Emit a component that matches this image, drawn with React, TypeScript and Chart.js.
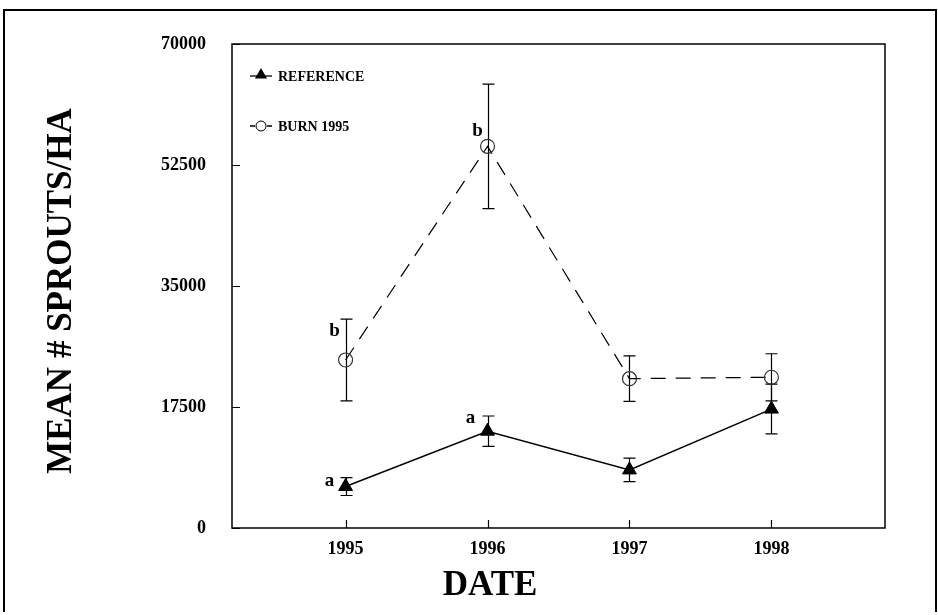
import React, { useEffect, useRef } from 'react';
import { Chart, registerables } from 'chart.js';

Chart.register(...registerables);

// ---- data ----
const years = [1995, 1996, 1997, 1998];
const yTickValues = [0, 17500, 35000, 52500, 70000];
const referenceMeans = [6000, 14000, 8400, 17200];
const referenceErrors = [1300, 2200, 1700, 3600];
const burnMeans = [24300, 55200, 21600, 21800];
const burnErrors = [5900, 9000, 3300, 3400];
const referenceLetters = ['a', 'a', '', ''];
const burnLetters = ['b', 'b', '', ''];
const seriesNames = ['REFERENCE', 'BURN 1995'];

const SERIF = '"Liberation Serif", "Times New Roman", serif';

// letter placement offsets (style only)
const refLetterOffsets = [[-16, -5], [-17, -13], [0, 0], [0, 0]];
const burnLetterOffsets = [[-11, -29], [-10, -15], [0, 0], [0, 0]];

const errorBarPlugin = {
  id: 'errorBars',
  beforeDatasetsDraw(chart: any) {
    const ctx = chart.ctx;
    const y = chart.scales.y;
    const sets = [
      { idx: 0, means: referenceMeans, errs: referenceErrors },
      { idx: 1, means: burnMeans, errs: burnErrors },
    ];
    ctx.save();
    ctx.strokeStyle = '#000';
    ctx.lineWidth = 1.2;
    ctx.setLineDash([]);
    for (const s of sets) {
      const meta = chart.getDatasetMeta(s.idx);
      meta.data.forEach((pt: any, i: number) => {
        const top = y.getPixelForValue(s.means[i] + s.errs[i]);
        const bot = y.getPixelForValue(s.means[i] - s.errs[i]);
        const x = Math.round(pt.x) + 0.5;
        ctx.beginPath();
        ctx.moveTo(x, top);
        ctx.lineTo(x, bot);
        ctx.moveTo(x - 6, top);
        ctx.lineTo(x + 6, top);
        ctx.moveTo(x - 6, bot);
        ctx.lineTo(x + 6, bot);
        ctx.stroke();
      });
    }
    ctx.restore();
  },
};

function drawTriangle(ctx: CanvasRenderingContext2D, x: number, y: number, r: number) {
  ctx.beginPath();
  ctx.moveTo(x, y - r);
  ctx.lineTo(x + r * 0.866, y + r * 0.5);
  ctx.lineTo(x - r * 0.866, y + r * 0.5);
  ctx.closePath();
  ctx.fill();
}

const decorPlugin = {
  id: 'decor',
  afterDraw(chart: any) {
    const ctx = chart.ctx;
    const { left, right, top, bottom } = chart.chartArea;
    const xs = chart.scales.x;
    const ys = chart.scales.y;
    ctx.save();
    ctx.setLineDash([]);
    // plot frame
    ctx.strokeStyle = '#000';
    ctx.lineWidth = 1.5;
    ctx.strokeRect(left, top, right - left, bottom - top);
    // inward ticks
    ctx.lineWidth = 1.2;
    ctx.beginPath();
    yTickValues.forEach((v) => {
      const py = Math.round(ys.getPixelForValue(v)) + 0.5;
      ctx.moveTo(left, py);
      ctx.lineTo(left + 8, py);
    });
    years.forEach((v) => {
      const px = Math.round(xs.getPixelForValue(v)) + 0.5;
      ctx.moveTo(px, bottom);
      ctx.lineTo(px, bottom - 8);
    });
    ctx.stroke();

    // outer page frame
    ctx.lineWidth = 2;
    ctx.beginPath();
    ctx.moveTo(4, 612);
    ctx.lineTo(4, 10);
    ctx.lineTo(936, 10);
    ctx.lineTo(936, 612);
    ctx.stroke();

    // axis titles
    ctx.fillStyle = '#000';
    ctx.font = `bold 35px ${SERIF}`;
    ctx.textAlign = 'center';
    ctx.textBaseline = 'middle';
    ctx.fillText('DATE', 490, 586);
    ctx.save();
    ctx.translate(62, 291);
    ctx.rotate(-Math.PI / 2);
    ctx.fillText('MEAN # SPROUTS/HA', 0, 0);
    ctx.restore();

    // significance letters
    ctx.font = `bold 19px ${SERIF}`;
    const m0 = chart.getDatasetMeta(0);
    const m1 = chart.getDatasetMeta(1);
    m0.data.forEach((pt: any, i: number) => {
      if (referenceLetters[i]) {
        ctx.fillText(referenceLetters[i], pt.x + refLetterOffsets[i][0], pt.y + refLetterOffsets[i][1]);
      }
    });
    m1.data.forEach((pt: any, i: number) => {
      if (burnLetters[i]) {
        ctx.fillText(burnLetters[i], pt.x + burnLetterOffsets[i][0], pt.y + burnLetterOffsets[i][1]);
      }
    });

    // legend
    const lx = left + 18;
    const ly1 = top + 32;
    const ly2 = top + 82;
    ctx.lineWidth = 1.3;
    ctx.beginPath();
    ctx.moveTo(lx, ly1);
    ctx.lineTo(lx + 22, ly1);
    ctx.stroke();
    drawTriangle(ctx, lx + 11, ly1 - 1, 7);
    ctx.beginPath();
    ctx.moveTo(lx, ly2);
    ctx.lineTo(lx + 5, ly2);
    ctx.moveTo(lx + 17, ly2);
    ctx.lineTo(lx + 22, ly2);
    ctx.stroke();
    ctx.beginPath();
    ctx.lineWidth = 1;
    ctx.arc(lx + 11, ly2, 5, 0, Math.PI * 2);
    ctx.stroke();
    ctx.font = `bold 14px ${SERIF}`;
    ctx.textAlign = 'left';
    ctx.fillText(seriesNames[0], lx + 28, ly1 + 1);
    ctx.fillText(seriesNames[1], lx + 28, ly2 + 1);
    ctx.restore();
  },
};

export default function App() {
  const canvasRef = useRef<HTMLCanvasElement | null>(null);

  useEffect(() => {
    document.body.style.margin = '0';
    const canvas = canvasRef.current;
    if (!canvas) return;
    const chart = new Chart(canvas, {
      type: 'line',
      data: {
        datasets: [
          {
            label: seriesNames[0],
            data: years.map((yr, i) => ({ x: yr, y: referenceMeans[i] })),
            borderColor: '#000',
            backgroundColor: '#000',
            borderWidth: 1.5,
            pointStyle: 'triangle',
            pointRadius: 8,
            pointBackgroundColor: '#000',
            pointBorderColor: '#000',
            pointBorderWidth: 1,
            tension: 0,
          },
          {
            label: seriesNames[1],
            data: years.map((yr, i) => ({ x: yr, y: burnMeans[i] })),
            borderColor: '#000',
            backgroundColor: 'rgba(0,0,0,0)',
            borderWidth: 1.2,
            borderDash: [15, 10],
            pointStyle: 'circle',
            pointRadius: 7,
            pointBackgroundColor: 'rgba(0,0,0,0)',
            pointBorderColor: '#333',
            pointBorderWidth: 1.2,
            tension: 0,
          },
        ],
      },
      options: {
        responsive: false,
        animation: false,
        devicePixelRatio: 1,
        layout: { padding: { left: 0, top: 44, right: 53, bottom: 0 } },
        plugins: {
          legend: { display: false },
          tooltip: { enabled: false },
        },
        scales: {
          x: {
            type: 'linear',
            min: 1994.2,
            max: 1998.8,
            grid: { display: false, drawTicks: false },
            border: { display: false },
            afterBuildTicks: (scale: any) => {
              scale.ticks = years.map((v) => ({ value: v }));
            },
            afterFit: (scale: any) => {
              scale.height = 87;
            },
            ticks: {
              padding: 11,
              color: '#000',
              font: { family: SERIF, size: 18, weight: 'bold' },
              callback: (v: any) => String(v),
              maxRotation: 0,
            },
          },
          y: {
            type: 'linear',
            min: 0,
            max: 70000,
            grid: { display: false, drawTicks: false },
            border: { display: false },
            afterBuildTicks: (scale: any) => {
              scale.ticks = yTickValues.map((v) => ({ value: v }));
            },
            afterFit: (scale: any) => {
              scale.width = 232;
            },
            ticks: {
              padding: 26,
              color: '#000',
              font: { family: SERIF, size: 18, weight: 'bold' },
              callback: (v: any) => String(v),
            },
          },
        },
      },
      plugins: [errorBarPlugin, decorPlugin],
    });
    return () => chart.destroy();
  }, []);

  return (
    <div style={{ position: 'absolute', left: 0, top: 0, width: 938, height: 615, background: '#fff' }}>
      <canvas ref={canvasRef} width={938} height={615} style={{ display: 'block' }} />
    </div>
  );
}
